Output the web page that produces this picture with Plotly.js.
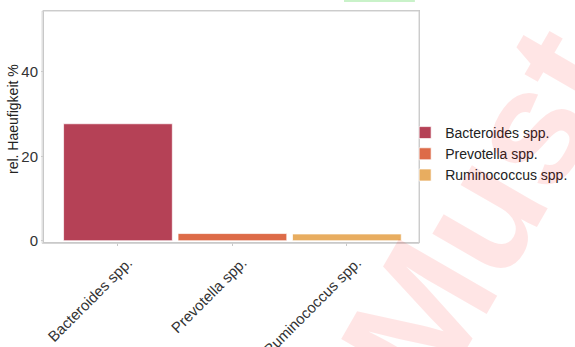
<!DOCTYPE html>
<html>
<head>
<meta charset="utf-8">
<script src="https://cdn.plot.ly/plotly-3.0.1.min.js"></script>
<style>html,body{margin:0;padding:0;background:#fff;}#chart{width:575px;height:347px;}</style>
</head>
<body>
<div id="chart"></div>
<script>
const categories = ["Bacteroides spp.", "Prevotella spp.", "Ruminococcus spp."];
const values = [27.7, 1.7, 1.6];
const colors = ["#b54156", "#dd6b48", "#e8ad60"];
const yTicks = [0, 20, 40];
const yTitle = "rel. Haeufigkeit %";
const watermark = "Must";

const traces = categories.map((c, i) => ({
  type: "bar",
  name: c,
  x: [c],
  y: [values[i]],
  width: 0.95,
  marker: {color: colors[i], line: {color: "rgba(255,255,255,0.7)", width: 1}},
  hoverinfo: "x+y"
}));

const layout = {
  width: 575, height: 347,
  margin: {l: 44, r: 156, t: 11, b: 105, autoexpand: false},
  paper_bgcolor: "#fff", plot_bgcolor: "#fff",
  font: {family: "Liberation Sans, Arial, sans-serif", color: "#333", size: 14},
  barmode: "overlay",
  showlegend: true,
  legend: {x: 0.963, y: 0.381, xanchor: "left", yanchor: "middle", bgcolor: "rgba(0,0,0,0)", font: {size: 14, color: "#222"}, tracegroupgap: 0, itemwidth: 30},
  xaxis: {
    type: "category", categoryorder: "array", categoryarray: categories,
    range: [-0.646, 2.63], tickangle: -45,
    showline: true, mirror: true, linecolor: "#c8c8c8", linewidth: 1,
    ticks: "outside", ticklen: 3, tickcolor: "#c8c8c8",
    ticklabelshift: 10, ticklabelstandoff: 2,
    showgrid: false, zeroline: false,
    tickfont: {size: 15, color: "#333"}
  },
  yaxis: {
    range: [-0.3, 54.4], tickvals: yTicks, ticktext: yTicks.map(String),
    showline: true, mirror: true, linecolor: "#c8c8c8", linewidth: 1,
    ticks: "outside", ticklen: 2, tickcolor: "#c8c8c8",
    showgrid: false, zeroline: false,
    tickfont: {size: 15, color: "#333"}
  },
  shapes: [
    {type: "rect", xref: "paper", yref: "paper", x0: -0.005, x1: 1, y0: -0.006, y1: 1, line: {color: "#d0d0d0", width: 1}},
    {type: "rect", xref: "paper", yref: "paper", x0: 0.8, x1: 0.989, y0: 1.039, y1: 1.06, fillcolor: "#c9f2c9", line: {width: 0}}
  ],
  annotations: [
    {
      text: yTitle, xref: "paper", yref: "paper",
      x: -0.083, y: 0.532, xanchor: "center", yanchor: "middle",
      showarrow: false, textangle: -90,
      font: {size: 14, color: "#222"}
    },
    {
      text: "<b>" + watermark + "</b>", xref: "paper", yref: "paper",
      x: 1.165, y: 0.14, xanchor: "center", yanchor: "middle",
      showarrow: false, textangle: -60,
      font: {family: "Liberation Sans, Arial, sans-serif", size: 165, color: "rgba(255,0,0,0.1)"}
    }
  ]
};

Plotly.newPlot("chart", traces, layout, {displayModeBar: false, staticPlot: true});
</script>
</body>
</html>
